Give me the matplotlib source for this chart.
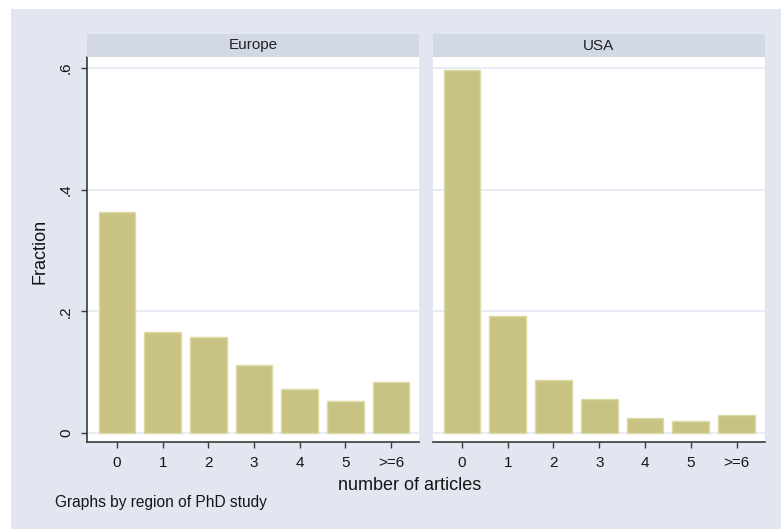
import matplotlib
matplotlib.use("Agg")
import matplotlib.pyplot as plt
from matplotlib.patches import Rectangle

categories = ["0", "1", "2", "3", "4", "5", ">=6"]
europe = [0.363, 0.166, 0.158, 0.112, 0.072, 0.053, 0.084]
usa = [0.596, 0.192, 0.087, 0.056, 0.024, 0.019, 0.030]
panels = ["Europe", "USA"]
yticks = [0, 0.2, 0.4, 0.6]
ytick_labels = ["0", ".2", ".4", ".6"]

plt.rcParams['font.family'] = ['Liberation Sans', 'DejaVu Sans']

W, H = 781, 529
fig = plt.figure(figsize=(W / 100, H / 100), dpi=100)
fig.patch.set_facecolor("white")
bg = "#e1e6f0"
strip_c = "#d2d9e5"
bar_c = "#c9c383"
bar_edge = "#dedaa8"
grid_c = "#e3e9f4"
axis_c = "#3a3a3a"
txt_c = "#151515"

fig.patches.append(Rectangle((11 / W, 0), 1 - 11 / W, 1 - 9 / H,
                             transform=fig.transFigure, facecolor=bg,
                             edgecolor="none", zorder=-10))

def fx(px):
    return px / W

def fy(py):
    return 1 - py / H

lefts = [87, 433]
pw = 332
top, bottom = 57, 442
data = [europe, usa]
xlims = [(-0.655, 6.61), (-0.63, 6.62)]
x = list(range(len(categories)))

for i, (name, vals) in enumerate(zip(panels, data)):
    ax = fig.add_axes([fx(lefts[i]), fy(bottom), pw / W, (bottom - top) / H])
    ax.set_facecolor("white")
    ax.bar(x, vals, width=0.8, color=bar_c, edgecolor=bar_edge, linewidth=1.0, zorder=3)
    ax.set_xlim(*xlims[i])
    ax.set_ylim(-0.0148, 0.618)
    ax.set_yticks(yticks)
    for yv in yticks:
        ax.axhline(yv, color=grid_c, linewidth=1.2, zorder=1)
    ax.set_xticks(x)
    ax.set_xticklabels(categories, fontsize=11, color=txt_c)
    for s in ["top", "right"]:
        ax.spines[s].set_visible(False)
    ax.spines["bottom"].set_color(axis_c)
    ax.spines["bottom"].set_linewidth(1.2)
    ax.tick_params(axis="x", direction="out", length=4, width=1, color=axis_c, pad=6)
    if i == 0:
        ax.spines["left"].set_color(axis_c)
        ax.spines["left"].set_linewidth(1.2)
        ax.set_yticklabels(ytick_labels, rotation=90, va="center", fontsize=11, color=txt_c)
        ax.tick_params(axis="y", direction="out", length=4, width=1, color=axis_c, pad=6)
    else:
        ax.spines["left"].set_visible(False)
        ax.tick_params(axis="y", left=False, labelleft=False)
    # strip
    sax = fig.add_axes([fx(lefts[i]), fy(57), pw / W, 23 / H])
    sax.set_facecolor(strip_c)
    sax.set_xticks([]); sax.set_yticks([])
    for s in sax.spines.values():
        s.set_visible(False)
    sax.text(0.5, 0.5, name, ha="center", va="center", fontsize=11, color="#222222",
             transform=sax.transAxes)

fig.text(fx(40), fy(251), "Fraction", rotation=90, ha="center", va="center",
         fontsize=13, color=txt_c)
fig.text(fx(410), fy(485), "number of articles", ha="center", va="center",
         fontsize=13, color=txt_c)
fig.text(fx(55), fy(503), "Graphs by region of PhD study", ha="left", va="center",
         fontsize=11.2, color=txt_c)

fig.savefig("out.png", dpi=100)
